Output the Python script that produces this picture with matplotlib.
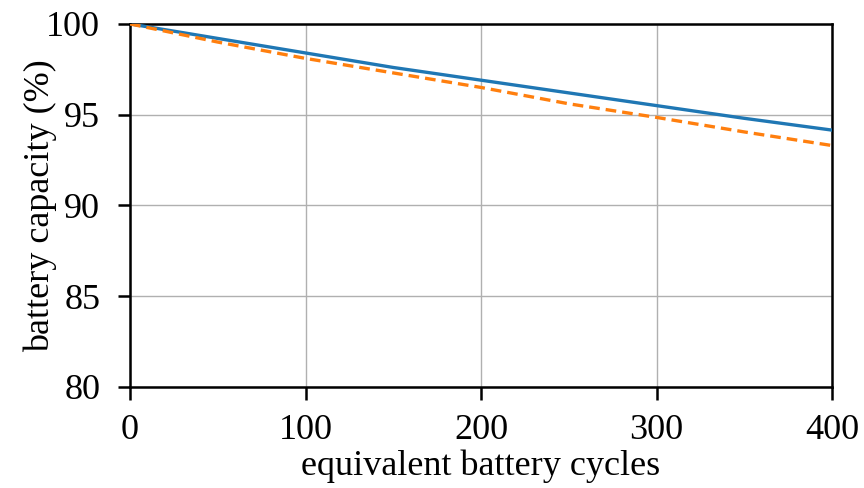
import numpy as np
import matplotlib
matplotlib.use("Agg")
import matplotlib.pyplot as plt

# capacity fade over equivalent cycles
cycles = [0, 50, 100, 150, 200, 250, 300, 350, 400]
capacity_solid = [100.0, 99.2, 98.4, 97.6, 96.9, 96.2, 95.5, 94.8, 94.15]
capacity_dashed = [100.0, 99.0, 98.1, 97.3, 96.5, 95.6, 94.85, 94.05, 93.3]

x_ticks = [0, 100, 200, 300, 400]
y_ticks = [80, 85, 90, 95, 100]

plt.rcParams["font.family"] = ["Liberation Serif", "DejaVu Serif"]

fig = plt.figure(figsize=(8.64, 4.88), dpi=100)
ax = fig.add_axes([0.1505, 0.207, 0.8125, 0.744])

ax.plot(cycles, capacity_solid, color="#1f77b4", linewidth=2.4, zorder=3)
ax.plot(cycles, capacity_dashed, color="#ff7f0e", linewidth=2.4,
        linestyle=(0, (3.2, 1.8)), zorder=3)

ax.set_xlim(0, 400)
ax.set_ylim(80, 100)
ax.set_xticks(x_ticks)
ax.set_yticks(y_ticks)
ax.grid(True, color="#b0b0b0", linewidth=1.0)
ax.set_axisbelow(True)

for sp in ax.spines.values():
    sp.set_linewidth(1.8)
    sp.set_color("black")

ax.tick_params(direction="out", length=9, width=1.8, labelsize=26)
ax.tick_params(axis="x", pad=10.5)
ax.tick_params(axis="y", pad=12.5)
ax.set_xlabel("equivalent battery cycles", fontsize=26, labelpad=2)
ax.set_ylabel("battery capacity (%)", fontsize=26, labelpad=-7.5)

fig.savefig("out.png", dpi=100)
